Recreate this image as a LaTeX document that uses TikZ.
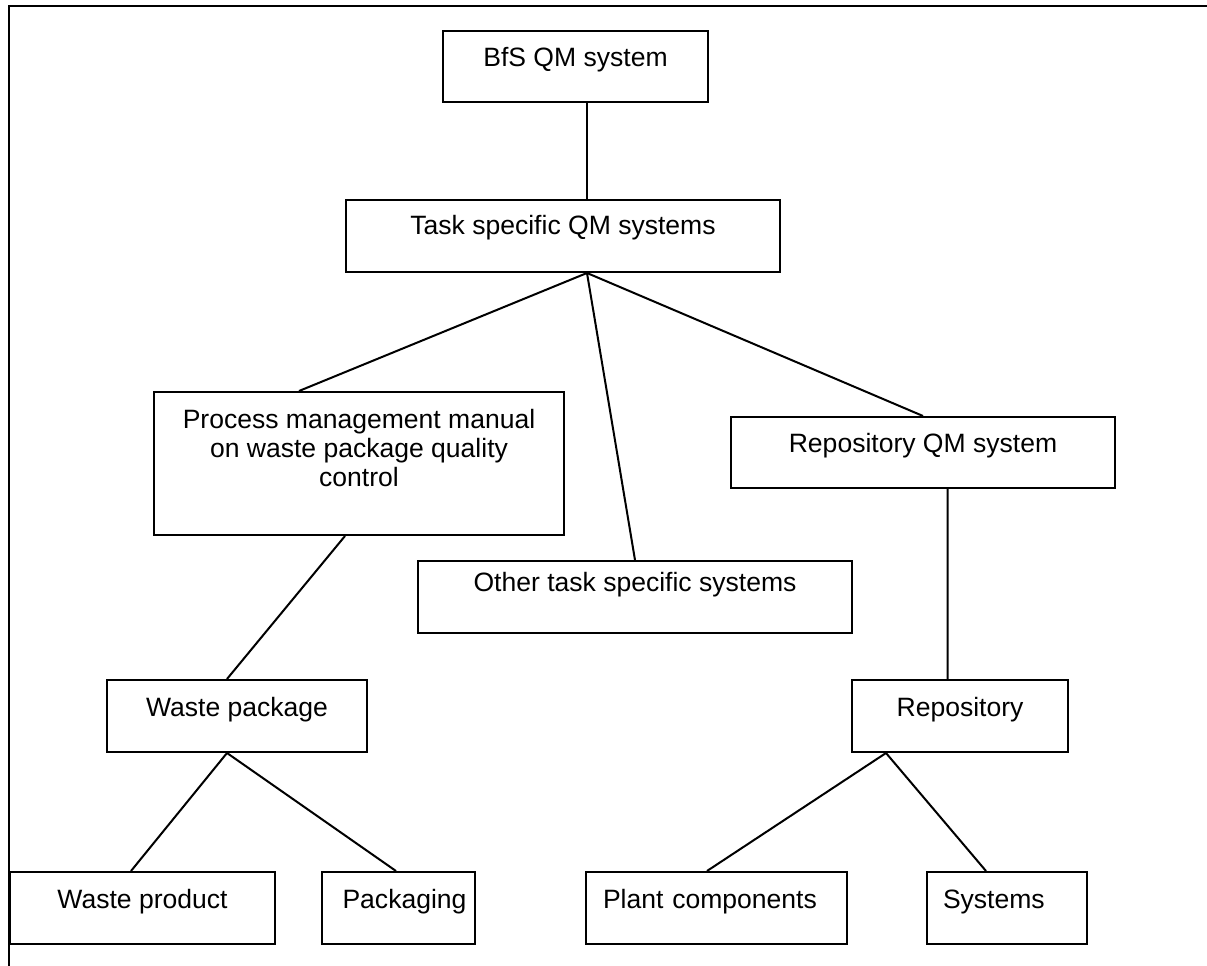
\documentclass[tikz,border=0pt]{standalone}
\usepackage{fontspec}
\setmainfont{Liberation Sans}
\newdimen\pxu
\pxu=0.75pt
\tikzset{
  box/.style={draw, line width=1.5pt, inner sep=0pt, align=center,
    font=\fontsize{19.9pt}{22.1pt}\selectfont},
  leftbox/.style={box, align=left},
  conn/.style={line width=1.5pt},
  frame/.style={line width=2.2pt}
}
\begin{document}
\begin{tikzpicture}[x=0.75pt, y=-0.75pt]
\useasboundingbox (0,0) rectangle (1207,966);
\draw[frame] (9,966) -- (9,6) -- (1207,6);

\node[box, minimum width=265\pxu, text height=36\pxu, text depth=35\pxu] (bfs) at (575.5,66.5) {BfS QM system};
\node[box, minimum width=434\pxu, text height=35\pxu, text depth=37\pxu] (task) at (563,236) {Task specific QM systems};
\node[box, minimum width=410\pxu, text height=36\pxu, text depth=107\pxu] (proc) at (359,463.5)
  {\begin{tabular}[t]{@{}c@{}}Process management manual\\on waste package quality\\control\end{tabular}};
\node[box, minimum width=434\pxu, text height=30\pxu, text depth=42\pxu] (other) at (635,597) {Other task specific systems};
\node[box, minimum width=384\pxu, text height=35\pxu, text depth=36\pxu] (repqm) at (923,452.5) {Repository QM system};
\node[box, minimum width=260\pxu, text height=36\pxu, text depth=36\pxu] (wpkg) at (237,716) {Waste package};
\node[box, minimum width=216\pxu, text height=36\pxu, text depth=36\pxu] (repo) at (960,716) {Repository};
\node[box, minimum width=265\pxu, text height=36\pxu, text depth=36\pxu] (wprod) at (142.5,908) {Waste product};
\node[box, minimum width=153\pxu, text height=36\pxu, text depth=36\pxu] (pack) at (398.5,908) {\hspace*{12\pxu}Packaging};
\node[leftbox, text width=227\pxu, inner xsep=17\pxu, text height=36\pxu, text depth=36\pxu] (plant) at (716.5,908) {Plant components};
\node[leftbox, text width=128\pxu, inner xsep=16\pxu, text height=36\pxu, text depth=36\pxu] (sys) at (1007,908) {Systems};

\draw[conn] ([xshift=11.5\pxu]bfs.south) -- ([xshift=24\pxu]task.north);
\draw[conn] ([xshift=24\pxu]task.south) -- ([xshift=-60\pxu]proc.north);
\draw[conn] ([xshift=24\pxu]task.south) -- (other.north);
\draw[conn] ([xshift=24\pxu]task.south) -- (repqm.north);
\draw[conn] ([xshift=-14\pxu]proc.south) -- ([xshift=-10\pxu]wpkg.north);
\draw[conn] ([xshift=24.7\pxu]repqm.south) -- ([xshift=-12.3\pxu]repo.north);
\draw[conn] ([xshift=-10\pxu]wpkg.south) -- ([xshift=-11.5\pxu]wprod.north);
\draw[conn] ([xshift=-10\pxu]wpkg.south) -- ([xshift=-2.5\pxu]pack.north);
\draw[conn] ([xshift=-74\pxu]repo.south) -- ([xshift=-9.5\pxu]plant.north);
\draw[conn] ([xshift=-74\pxu]repo.south) -- ([xshift=-21\pxu]sys.north);
\end{tikzpicture}
\end{document}
